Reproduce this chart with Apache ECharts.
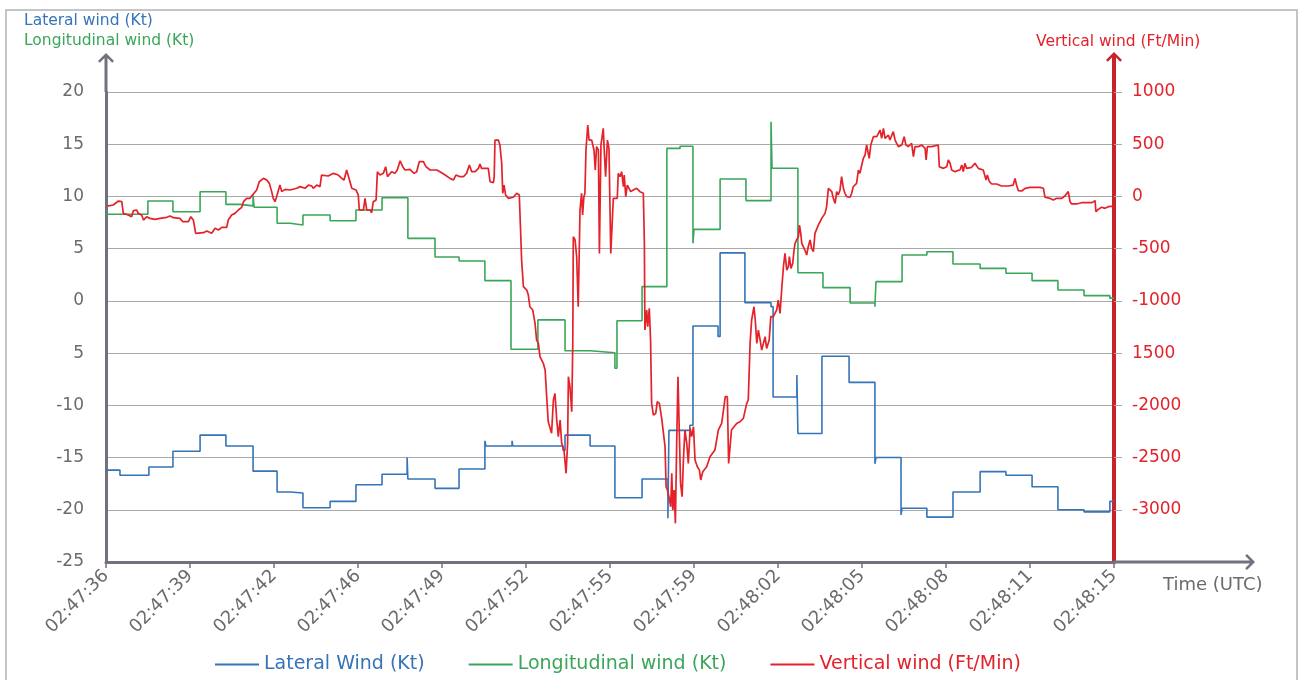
<!DOCTYPE html>
<html>
<head>
<meta charset="utf-8">
<title>Wind components</title>
<script src="https://cdn.jsdelivr.net/npm/echarts@6/dist/echarts.min.js"></script>
<style>
  html, body { margin: 0; padding: 0; background: #ffffff; }
  #chart { width: 1303px; height: 680px; }
</style>
</head>
<body>
<div id="chart"></div>
<script>
// Time axis: seconds elapsed since 02:47:36 UTC, one tick label every 3.25 s
const timeLabels = ['02:47:36', '02:47:39', '02:47:42', '02:47:46', '02:47:49', '02:47:52', '02:47:55',
  '02:47:59', '02:48:02', '02:48:05', '02:48:08', '02:48:11', '02:48:15'];
const timeStep = 3.25;

// Lateral wind (Kt): [seconds, value] at each change of the recorded value
const lateralWind = [
  [0, -16.2], [0.54, -16.7], [1.66, -15.9], [2.59, -14.4], [3.64, -12.85], [4.64, -13.9], [5.69, -16.3],
  [6.62, -18.3], [7.12, -18.4], [7.62, -19.8], [8.67, -19.2], [9.67, -17.6], [10.68, -16.6], [11.65, -15.0],
  [11.68, -17.05], [12.73, -17.95], [13.66, -16.1], [14.66, -13.4], [14.70, -13.9], [15.71, -13.4], [15.74, -13.9],
  [17.68, -14.3], [17.76, -12.85], [18.73, -13.9], [19.69, -18.85], [20.74, -17.05], [21.74, -20.8], [21.78, -12.4],
  [22.59, -11.9], [22.71, -2.4], [23.68, -3.4], [23.76, 4.6], [24.72, -0.17], [25.73, -0.55], [25.81, -9.2],
  [26.73, -7.1], [26.77, -12.7], [27.70, -5.3], [28.75, -7.8], [29.75, -15.6], [29.79, -15.0], [30.76, -20.5],
  [30.80, -19.85], [31.76, -20.7], [32.77, -18.3], [33.82, -16.35], [34.82, -16.7], [35.83, -17.8], [36.83, -20.0],
  [37.84, -20.2], [38.84, -19.2], [39, -19.2]
];

// Longitudinal wind (Kt)
const longitudinalWind = [
  [0, 8.3], [1.62, 9.56], [2.59, 8.54], [3.64, 10.45], [4.64, 9.24], [5.18, 9.1], [5.69, 10.1], [5.73, 8.96],
  [6.62, 7.43], [7.12, 7.27], [7.62, 8.22], [8.67, 7.68], [9.67, 8.7], [10.68, 9.88], [11.68, 5.99], [12.73, 4.2],
  [13.66, 3.82], [14.66, 1.94], [15.67, -4.63], [16.71, -1.82], [17.76, -4.77], [18.73, -4.96], [19.69, -6.45],
  [19.77, -1.9], [20.74, 1.37], [21.70, 14.6], [22.21, 14.8], [22.71, 5.51], [22.75, 6.85], [23.76, 11.67],
  [24.76, 9.6], [25.73, 17.16], [25.77, 12.7], [26.77, 2.7], [27.74, 1.27], [28.79, -0.2], [29.75, -0.55],
  [29.79, 1.84], [30.80, 4.39], [31.76, 4.7], [32.77, 3.53], [33.82, 3.11], [34.82, 2.64], [35.83, 1.94],
  [36.83, 1.04], [37.84, 0.5], [38.84, 0.26], [39, 0.26]
];

// Vertical wind (Ft/Min)
const verticalWind = [
  [0.03, -92], [0.28, -82], [0.48, -44], [0.61, -50], [0.67, -162], [0.86, -178], [0.99, -194], [1.06, -136],
  [1.19, -130], [1.25, -162], [1.38, -178], [1.45, -226], [1.57, -194], [1.70, -210], [1.90, -219], [2.09, -210],
  [2.35, -200], [2.48, -187], [2.61, -203], [2.86, -210], [2.97, -242], [3.19, -242], [3.28, -194], [3.38, -226],
  [3.47, -353], [3.77, -347], [3.90, -331], [4.09, -353], [4.22, -305], [4.35, -321], [4.48, -296], [4.67, -296],
  [4.73, -226], [4.86, -178], [4.99, -162], [5.12, -130], [5.25, -104], [5.32, -50], [5.44, -18], [5.57, -18],
  [5.70, 23], [5.83, 62], [5.93, 141], [6.09, 173], [6.22, 157], [6.32, 125], [6.41, 46], [6.47, -18],
  [6.54, -50], [6.60, -2], [6.67, -18], [6.73, 109], [6.80, 46], [6.93, 68], [7.12, 62], [7.38, 78], [7.51, 94],
  [7.70, 78], [7.83, 109], [7.96, 100], [8.02, 78], [8.15, 109], [8.28, 94], [8.34, 205], [8.60, 196], [8.80, 221],
  [8.99, 205], [9.12, 173], [9.21, 157], [9.31, 253], [9.38, 253], [9.44, 141], [9.51, 78], [9.67, 62], [9.76, 14],
  [9.80, -130], [9.96, -130], [10.02, -18], [10.09, -130], [10.22, -130], [10.28, -156], [10.34, -50], [10.45, -34],
  [10.50, 237], [10.60, 205], [10.73, 221], [10.82, 285], [10.89, 189], [10.96, 173], [11.05, 237], [11.18, 221],
  [11.27, 253], [11.38, 342], [11.48, 285], [11.57, 253], [11.76, 259], [11.92, 221], [12.02, 237], [12.12, 333],
  [12.28, 333], [12.38, 285], [12.54, 253], [12.80, 253], [12.92, 237], [13.12, 205], [13.31, 173], [13.44, 157],
  [13.54, 205], [13.70, 189], [13.83, 189], [13.95, 221], [14.06, 301], [14.15, 237], [14.28, 237], [14.41, 269],
  [14.47, 311], [14.53, 269], [14.79, 269], [14.86, 141], [14.99, 132], [15.02, 189], [15.05, 540], [15.18, 540],
  [15.24, 493], [15.31, 317], [15.35, 30], [15.40, 109], [15.46, 14], [15.57, -18], [15.76, -8], [15.89, 30],
  [15.99, 14], [16.04, -321], [16.08, -609], [16.15, -864], [16.28, -896], [16.34, -944], [16.40, -1056],
  [16.51, -1087], [16.60, -1215], [16.66, -1375], [16.73, -1407], [16.79, -1534], [16.86, -1550], [16.92, -1598],
  [16.99, -1662], [17.05, -1917], [17.11, -2157], [17.18, -2157], [17.24, -2268], [17.31, -1949], [17.37, -1885],
  [17.44, -2141], [17.50, -2300], [17.57, -2141], [17.63, -2364], [17.72, -2428], [17.80, -2651], [17.86, -2364],
  [17.89, -1726], [17.95, -1822], [18.02, -2061], [18.06, -1407], [18.08, -385], [18.15, -417], [18.21, -577],
  [18.27, -1056], [18.34, -130], [18.40, 30], [18.44, -178], [18.49, -2], [18.53, 30], [18.57, 445], [18.64, 684],
  [18.69, 540], [18.79, 540], [18.88, 445], [18.93, 253], [18.98, 477], [19.05, 445], [19.09, -545], [19.15, 493],
  [19.24, 652], [19.27, 477], [19.33, 189], [19.40, 540], [19.46, 461], [19.53, -545], [19.56, -385], [19.63, -18],
  [19.69, -34], [19.78, -18], [19.82, 221], [19.89, 189], [19.95, 237], [20.02, 93], [20.05, 205], [20.11, -2],
  [20.17, 109], [20.24, 93], [20.30, 46], [20.40, 62], [20.53, 78], [20.66, 46], [20.79, 30], [20.83, -449],
  [20.85, -1279], [20.92, -1087], [20.96, -1247], [21.02, -1071], [21.07, -1375], [21.11, -1981], [21.18, -2093],
  [21.27, -2077], [21.33, -1965], [21.41, -1981], [21.50, -2125], [21.56, -2252], [21.63, -2396], [21.67, -2779],
  [21.72, -2811], [21.78, -2875], [21.85, -2971], [21.89, -2651], [21.93, -3003], [21.98, -2811], [22.03, -3130],
  [22.08, -2364], [22.13, -1726], [22.18, -2237], [22.23, -2747], [22.29, -2875], [22.34, -2524], [22.40, -2237],
  [22.47, -2364], [22.53, -2556], [22.60, -2221], [22.66, -2300], [22.73, -2205], [22.79, -2524], [22.88, -2588],
  [22.96, -2620], [23.01, -2715], [23.09, -2636], [23.24, -2588], [23.37, -2492], [23.56, -2428], [23.69, -2237],
  [23.82, -2173], [23.89, -2045], [23.96, -1917], [24.04, -1917], [24.09, -2556], [24.14, -2556], [24.20, -2237],
  [24.30, -2205], [24.40, -2173], [24.53, -2157], [24.66, -2125], [24.79, -1981], [24.85, -1949], [24.92, -1407],
  [24.98, -1183], [25.07, -1056], [25.12, -1183], [25.18, -1407], [25.24, -1279], [25.31, -1375], [25.37, -1471],
  [25.43, -1471], [25.50, -1343], [25.56, -1455], [25.66, -1375], [25.72, -1151], [25.82, -1151], [25.95, -1087],
  [26.01, -992], [26.08, -1119], [26.14, -900], [26.21, -673], [26.27, -545], [26.34, -705], [26.40, -673],
  [26.44, -577], [26.50, -689], [26.57, -641], [26.62, -513], [26.66, -449], [26.72, -417], [26.79, -385],
  [26.83, -274], [26.88, -353], [26.92, -449], [26.98, -433], [27.04, -513], [27.11, -561], [27.17, -481],
  [27.24, -417], [27.30, -497], [27.37, -529], [27.43, -353], [27.50, -337], [27.56, -274], [27.62, -289],
  [27.69, -210], [27.75, -194], [27.82, -162], [27.88, -98], [27.95, 78], [28.01, 62], [28.08, 46], [28.14, -18],
  [28.21, -66], [28.27, 46], [28.33, 14], [28.40, 62], [28.46, 189], [28.53, 78], [28.59, 30], [28.66, -2],
  [28.79, -8], [28.85, 30], [28.91, 93], [28.98, 93], [29.04, 125], [29.11, 253], [29.17, 221], [29.24, 301],
  [29.30, 365], [29.37, 397], [29.43, 493], [29.49, 413], [29.53, 365], [29.59, 493], [29.62, 477], [29.69, 572],
  [29.82, 572], [29.88, 588], [29.95, 636], [30.01, 556], [30.08, 652], [30.14, 556], [30.20, 540], [30.27, 588],
  [30.33, 540], [30.40, 524], [30.46, 620], [30.53, 540], [30.59, 508], [30.66, 477], [30.79, 493], [30.88, 572],
  [30.95, 493], [31.04, 477], [31.17, 508], [31.24, 381], [31.30, 477], [31.43, 477], [31.56, 493], [31.69, 461],
  [31.73, 349], [31.78, 477], [31.95, 477], [32.20, 493], [32.24, 285], [32.40, 269], [32.53, 285], [32.59, 349],
  [32.66, 317], [32.72, 253], [32.85, 237], [32.94, 247], [33.04, 253], [33.11, 301], [33.17, 237], [33.23, 317],
  [33.30, 269], [33.36, 285], [33.49, 279], [33.56, 269], [33.62, 317], [33.69, 317], [33.75, 269], [33.82, 259],
  [33.94, 253], [34.05, 157], [34.10, 205], [34.18, 141], [34.27, 119], [34.46, 119], [34.65, 100], [34.91, 100],
  [35.10, 109], [35.17, 173], [35.23, 109], [35.30, 55], [35.43, 52], [35.56, 78], [35.75, 87], [36.14, 87],
  [36.27, 78], [36.33, -8], [36.52, -18], [36.65, -34], [36.78, -18], [36.98, -18], [37.10, 4], [37.23, 46],
  [37.30, -50], [37.36, -72], [37.55, -72], [37.75, -60], [38.14, -60], [38.27, -40], [38.30, -146], [38.39, -124],
  [38.52, -104], [38.65, -114], [38.78, -98], [39, -92]
];

const seriesNames = ['Lateral Wind (Kt)', 'Longitudinal wind (Kt)', 'Vertical wind (Ft/Min)'];

const FONT = 'DejaVu Sans';
const BLUE = '#3574b8';
const GREEN = '#3aa65a';
const RED = '#e4222a';
const AXIS_RED = '#c8222b';
const AXIS_GRAY = '#72727e';
const GRID_GRAY = '#a9a9a9';
const TEXT_GRAY = '#6b6b6b';

// Axis line arrowheads: an open chevron on top of a shaft that prolongs the axis line
function arrowPath(len, shaft) {
  const a = 8 - shaft / 2, b = 8 + shaft / 2;
  const inner = 9.8 - (14.2 - b);
  return 'path://M8 0L16 8L14.2 9.8L' + b + ' ' + inner + 'L' + b + ' ' + len +
    'L' + a + ' ' + len + 'L' + a + ' ' + inner + 'L1.8 9.8L0 8Z';
}

const chart = echarts.init(document.getElementById('chart'), null, { renderer: 'canvas' });

chart.setOption({
  backgroundColor: '#ffffff',
  animation: false,
  textStyle: { fontFamily: FONT },
  grid: { left: 106, right: 189, top: 92, bottom: 118, containLabel: false, outerBoundsMode: 'none' },
  legend: {
    left: 210,
    top: 650,
    icon: 'rect',
    itemWidth: 44,
    itemHeight: 2,
    itemGap: 44,
    textStyle: { fontFamily: FONT, fontSize: 19 },
    data: [
      { name: seriesNames[0], textStyle: { color: BLUE } },
      { name: seriesNames[1], textStyle: { color: GREEN } },
      { name: seriesNames[2], textStyle: { color: RED } }
    ]
  },
  xAxis: {
    type: 'value',
    min: 0,
    max: timeStep * (timeLabels.length - 1),
    interval: timeStep,
    name: 'Time (UTC)',
    nameLocation: 'end',
    nameGap: 49,
    nameTextStyle: { color: TEXT_GRAY, fontSize: 18, align: 'left', verticalAlign: 'top', padding: [14, 0, 0, 0] },
    axisLine: {
      onZero: false,
      lineStyle: { color: AXIS_GRAY, width: 3 },
      symbol: ['none', arrowPath(141, 3)],
      symbolSize: [16, 141],
      symbolOffset: [0, 70.5]
    },
    axisTick: { show: true, length: 6, lineStyle: { color: AXIS_GRAY, width: 1.5 } },
    axisLabel: {
      rotate: 45,
      margin: 11,
      color: TEXT_GRAY,
      fontSize: 18,
      formatter: v => timeLabels[Math.round(v / timeStep)]
    },
    splitLine: { show: false }
  },
  yAxis: [
    {
      type: 'value',
      position: 'left',
      min: -25,
      max: 20,
      interval: 5,
      axisLine: {
        show: true,
        lineStyle: { color: AXIS_GRAY, width: 3 },
        symbol: ['none', arrowPath(39, 3)],
        symbolSize: [16, 39],
        symbolOffset: [0, 19.5]
      },
      axisTick: { show: false },
      axisLabel: {
        margin: 22,
        color: TEXT_GRAY,
        fontSize: 17,
        formatter: v => (v === -5 ? '5' : String(v))
      },
      splitLine: { show: true, lineStyle: { color: GRID_GRAY, width: 1 } }
    },
    {
      type: 'value',
      position: 'right',
      min: -3500,
      max: 1000,
      interval: 500,
      axisLine: {
        show: true,
        lineStyle: { color: AXIS_RED, width: 4 },
        symbol: ['none', arrowPath(40, 4)],
        symbolSize: [16, 40],
        symbolOffset: [0, 20]
      },
      axisTick: { show: true, length: 8, lineStyle: { color: GRID_GRAY, width: 1 } },
      axisLabel: {
        margin: 18,
        color: RED,
        fontSize: 17,
        formatter: v => (v === -3500 ? '' : v === -1500 ? '1500' : String(v))
      },
      splitLine: { show: false }
    }
  ],
  series: [
    {
      name: seriesNames[0],
      type: 'line',
      yAxisIndex: 0,
      step: 'end',
      showSymbol: false,
      symbol: 'none',
      color: BLUE,
      lineStyle: { color: BLUE, width: 1.6 },
      data: lateralWind,
      z: 3
    },
    {
      name: seriesNames[1],
      type: 'line',
      yAxisIndex: 0,
      step: 'end',
      showSymbol: false,
      symbol: 'none',
      color: GREEN,
      lineStyle: { color: GREEN, width: 1.6 },
      data: longitudinalWind,
      z: 3
    },
    {
      name: seriesNames[2],
      type: 'line',
      yAxisIndex: 1,
      showSymbol: false,
      symbol: 'none',
      color: RED,
      lineStyle: { color: RED, width: 1.7 },
      data: verticalWind,
      z: 4
    }
  ],
  graphic: [
    {
      type: 'rect',
      shape: { x: 6, y: 10, width: 1291, height: 676 },
      style: { fill: null, stroke: '#b3b3b3', lineWidth: 1.5 },
      silent: true,
      z: -1
    },
    {
      type: 'text', left: 24, top: 13,
      style: { text: 'Lateral wind (Kt)', fill: BLUE, font: '15.5px "DejaVu Sans"' }
    },
    {
      type: 'text', left: 24, top: 33,
      style: { text: 'Longitudinal wind (Kt)', fill: GREEN, font: '15.5px "DejaVu Sans"' }
    },
    {
      type: 'text', left: 1036, top: 34,
      style: { text: 'Vertical wind (Ft/Min)', fill: RED, font: '15.5px "DejaVu Sans"' }
    }
  ]
});
</script>
</body>
</html>
